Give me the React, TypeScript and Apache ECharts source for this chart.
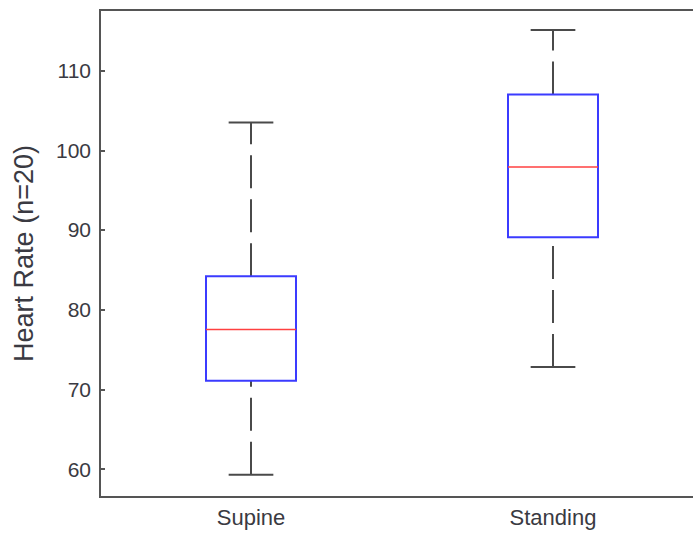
import React, { useEffect, useRef } from "react";
import * as echarts from "echarts";

const categories = ["Supine", "Standing"];
// [lower whisker, Q1, median, Q3, upper whisker]
const lowerWhisker = [59.3, 72.8];
const q1 = [71.1, 89.1];
const median = [77.5, 97.9];
const q3 = [84.2, 107.0];
const upperWhisker = [103.5, 115.1];
const yTicks = [60, 70, 80, 90, 100, 110];

const TEXT = "#3a3a42";
const AXIS = "#555555";

export default function App() {
  const ref = useRef<HTMLDivElement>(null);
  useEffect(() => {
    if (!ref.current) return;
    const chart = echarts.init(ref.current, null, { renderer: "svg" });
    const data = categories.map((_, i) => [i, lowerWhisker[i], q1[i], median[i], q3[i], upperWhisker[i]]);
    chart.setOption({
      animation: false,
      backgroundColor: "#ffffff",
      textStyle: { fontFamily: "Liberation Sans, Arial, sans-serif" },
      grid: {
        left: 100,
        right: 0,
        top: 10,
        bottom: 36,
        show: true,
        borderColor: AXIS,
        borderWidth: 2,
        containLabel: false,
      },
      xAxis: {
        type: "category",
        data: categories,
        boundaryGap: true,
        axisLine: { show: true, lineStyle: { color: AXIS, width: 2 } },
        axisTick: { show: false },
        axisLabel: { color: TEXT, fontSize: 22, margin: 9 },
        splitLine: { show: false },
      },
      yAxis: {
        type: "value",
        min: 56.5,
        max: 117.6,
        minInterval: 10,
        maxInterval: 10,
        name: "Heart Rate (n=20)",
        nameLocation: "middle",
        nameGap: 63,
        nameTextStyle: { color: TEXT, fontSize: 27 },
        axisLine: { show: true, lineStyle: { color: AXIS, width: 2 } },
        axisTick: { show: true, inside: true, length: 5, lineStyle: { color: AXIS, width: 2 } },
        axisLabel: {
          color: TEXT,
          fontSize: 21,
          margin: 9,
          showMinLabel: false,
          showMaxLabel: false,
          formatter: (v: number) => (yTicks.indexOf(Math.round(v * 1000) / 1000) >= 0 ? String(v) : ""),
        },
        splitLine: { show: false },
      },
      series: [
        {
          type: "custom",
          data,
          renderItem: (params: any, api: any) => {
            const idx = api.value(0);
            const band = api.size([1, 0])[0];
            const boxW = band * 0.298;
            const capW = band * 0.148;
            const pLo = api.coord([idx, api.value(1)]);
            const pQ1 = api.coord([idx, api.value(2)]);
            const pMed = api.coord([idx, api.value(3)]);
            const pQ3 = api.coord([idx, api.value(4)]);
            const pHi = api.coord([idx, api.value(5)]);
            const x = pLo[0];
            const whiskerStyle = { stroke: "#4a4a4a", lineWidth: 2, lineDash: [33, 11] };
            const capStyle = { stroke: "#4a4a4a", lineWidth: 2 };
            return {
              type: "group",
              children: [
                { type: "line", shape: { x1: x, y1: pLo[1], x2: x, y2: pQ1[1] }, style: whiskerStyle },
                { type: "line", shape: { x1: x, y1: pQ3[1], x2: x, y2: pHi[1] }, style: whiskerStyle },
                { type: "line", shape: { x1: x - capW / 2, y1: pLo[1], x2: x + capW / 2, y2: pLo[1] }, style: capStyle },
                { type: "line", shape: { x1: x - capW / 2, y1: pHi[1], x2: x + capW / 2, y2: pHi[1] }, style: capStyle },
                {
                  type: "rect",
                  shape: { x: x - boxW / 2, y: pQ3[1], width: boxW, height: pQ1[1] - pQ3[1] },
                  style: { fill: "#ffffff", stroke: "#3b3bff", lineWidth: 2 },
                },
                {
                  type: "line",
                  shape: { x1: x - boxW / 2, y1: pMed[1], x2: x + boxW / 2, y2: pMed[1] },
                  style: { stroke: "#ff4040", lineWidth: 1.5 },
                },
              ],
            };
          },
        },
      ],
    });
    return () => chart.dispose();
  }, []);
  return (
    <div style={{ position: "fixed", left: 0, top: 0, width: 693, height: 533, overflow: "hidden", background: "#fff" }}>
      <div ref={ref} style={{ width: 704, height: 533 }} />
    </div>
  );
}
